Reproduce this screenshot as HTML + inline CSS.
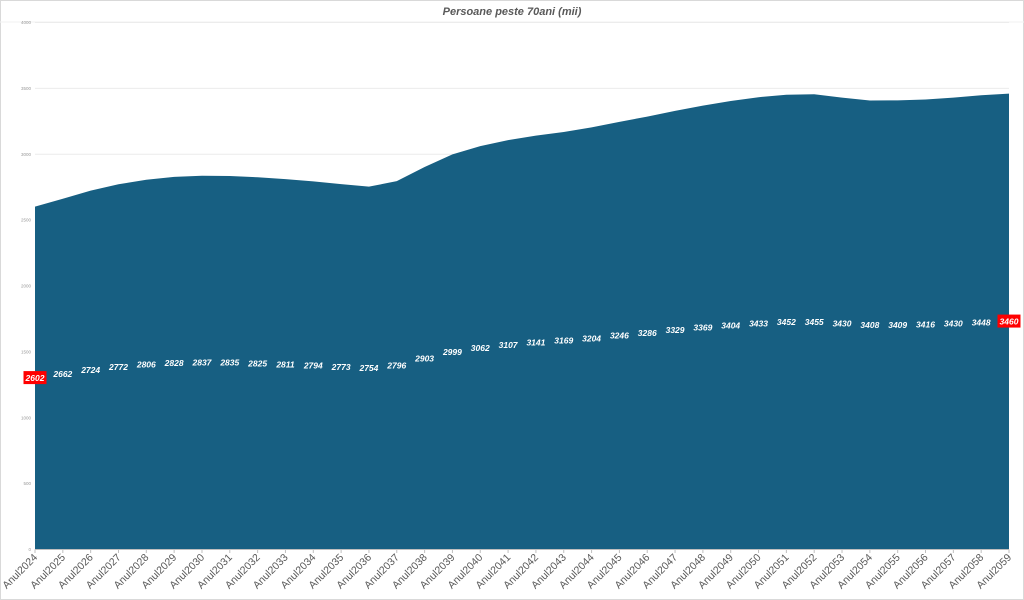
<!DOCTYPE html>
<html><head><meta charset="utf-8"><style>
html,body{margin:0;padding:0;background:#fff}
svg{display:block;font-family:"Liberation Sans",sans-serif}
</style></head><body>
<svg id="s" width="1024" height="600" viewBox="0 0 1024 600" xmlns="http://www.w3.org/2000/svg">
<rect x="0.5" y="0.5" width="1023" height="599" fill="#fff" stroke="#d9d9d9"/>
<text x="512" y="15" text-anchor="middle" font-size="11" font-style="italic" font-weight="bold" fill="#595959">Persoane peste 70ani (mii)</text>
<line x1="0" y1="22" x2="1024" y2="22" stroke="#f2f2f2"/>
<g id="g"></g>
</svg>
<script>
var v=[2602,2662,2724,2772,2806,2828,2837,2835,2825,2811,2794,2773,2754,2796,2903,2999,3062,3107,3141,3169,3204,3246,3286,3329,3369,3404,3433,3452,3455,3430,3408,3409,3416,3430,3448,3460];
var x0=35,x1=1009,dx=(x1-x0)/35,y0=549.5,k=0.13175,o='';
for(var t=0;t<=4000;t+=500){var y=y0-t*k;o+='<line x1="35" x2="1009" y1="'+y+'" y2="'+y+'" stroke="#ececec"/>';o+='<text x="31" y="'+(y+1.5)+'" text-anchor="end" font-size="4.5" fill="#999">'+t+'</text>';}
var p='M'+x0+','+y0;
v.forEach(function(d,i){p+=' L'+(x0+i*dx)+','+(y0-d*k)});
p+=' L'+x1+','+y0+' Z';
o+='<path d="'+p+'" fill="#175f82"/>';
v.forEach(function(d,i){var x=x0+i*dx,y=y0-d*k/2;
 if(i==0||i==35){o+='<rect x="'+(x-11.5)+'" y="'+(y-7)+'" width="23" height="13" fill="#ff0000"/>';}
 o+='<text x="'+x+'" y="'+(y+3)+'" text-anchor="middle" font-size="8.5" font-style="italic" font-weight="bold" fill="#fff">'+d+'</text>';
 o+='<line x1="'+x+'" x2="'+x+'" y1="549.5" y2="553" stroke="#bfbfbf"/>';
 o+='<text transform="translate('+(x+3)+',558) rotate(-45)" text-anchor="end" font-size="10.5" fill="#595959">Anul'+(2024+i)+'</text>';
});
o+='<line x1="35" x2="1009" y1="549.5" y2="549.5" stroke="#bfbfbf"/>';
document.getElementById('g').innerHTML=o;
</script>
</body></html>
